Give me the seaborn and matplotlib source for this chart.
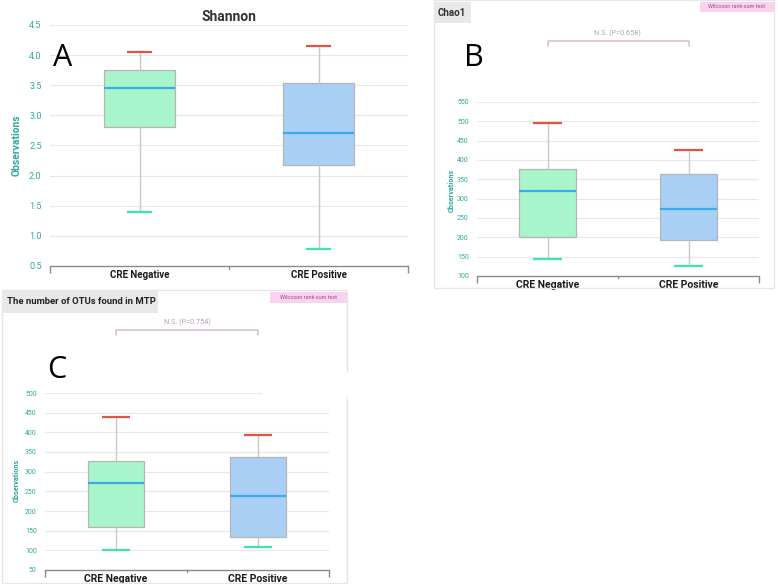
import numpy as np
import pandas as pd
import seaborn as sns
import matplotlib
matplotlib.use("Agg")
import matplotlib.pyplot as plt
from matplotlib.patches import Rectangle
from matplotlib.transforms import blended_transform_factory

# ---------------- data ----------------
groups = ["CRE Negative", "CRE Positive"]

shannon_low = [1.40, 0.79]
shannon_q1 = [2.80, 2.17]
shannon_med = [3.46, 2.71]
shannon_q3 = [3.75, 3.53]
shannon_high = [4.05, 4.15]
shannon_ticks = [0.5, 1.0, 1.5, 2.0, 2.5, 3.0, 3.5, 4.0, 4.5]

chao_low = [143, 127]
chao_q1 = [200, 193]
chao_med = [321, 274]
chao_q3 = [378, 365]
chao_high = [495, 426]
chao_ticks = [100, 150, 200, 250, 300, 350, 400, 450, 500, 550]
chao_p = "N.S. (P=0.658)"

otu_low = [100, 108]
otu_q1 = [160, 133]
otu_med = [271, 239]
otu_q3 = [328, 338]
otu_high = [440, 394]
otu_ticks = [50, 100, 150, 200, 250, 300, 350, 400, 450, 500]
otu_p = "N.S. (P=0.754)"

W, H = 778, 584
fig = plt.figure(figsize=(W / 100, H / 100), dpi=100)
sns.set_style("white")
plt.rcParams["font.family"] = ["Roboto", "DejaVu Sans"]

TEAL = "#2fa89a"
GREEN_FILL = "#a9f5cb"
BLUE_FILL = "#a9cff5"
MED = "#3aaaf0"
RED = "#e05540"
GREENCAP = "#3fe3a6"
GRID = "#e8e8e8"


def fx(x):
    return x / W


def fy(y):
    return 1 - y / H


def pax(x0, y0, x1, y1):
    return fig.add_axes([fx(x0), fy(y1), (x1 - x0) / W, (y1 - y0) / H])


def frect(x0, y0, x1, y1, **kw):
    r = Rectangle((fx(x0), fy(y1)), (x1 - x0) / W, (y1 - y0) / H,
                  transform=fig.transFigure, **kw)
    fig.patches.append(r)
    return r


def panel(ax, low, q1, med, q3, high, ticks, capw, ytick_fs, xtick_fs):
    rows = []
    for g, a, b, c, d, e in zip(groups, low, q1, med, q3, high):
        for v in (a, b, c, d, e):
            rows.append({"group": g, "value": v})
    df = pd.DataFrame(rows)
    sns.boxplot(data=df, x="group", y="value", hue="group",
                palette=[GREEN_FILL, BLUE_FILL], order=groups, hue_order=groups,
                saturation=1, width=0.4, whis=(0, 100), showcaps=False, legend=False,
                linecolor="#b5b5b5", linewidth=0.9,
                medianprops=dict(color=MED, linewidth=1.6),
                whiskerprops=dict(color="#c8c8c8", linewidth=1.0),
                ax=ax, zorder=3)
    for i in range(len(groups)):
        ax.hlines(high[i], i - capw / 2, i + capw / 2, color=RED, lw=1.6, zorder=4)
        ax.hlines(low[i], i - capw / 2, i + capw / 2, color=GREENCAP, lw=1.6, zorder=4)
    ax.set_xlim(-0.5, 1.5)
    ax.set_ylim(ticks[0], ticks[-1])
    ax.set_yticks(ticks)
    ax.set_yticklabels([f"{t:g}" if isinstance(t, int) else f"{t:.1f}" for t in ticks])
    for t in ticks[1:]:
        ax.axhline(t, color=GRID, lw=0.9, zorder=0)
    for s in ("top", "right", "left"):
        ax.spines[s].set_visible(False)
    ax.spines["bottom"].set_color("#8a8a8a")
    ax.spines["bottom"].set_linewidth(1.0)
    ax.tick_params(axis="y", length=0, labelsize=ytick_fs, labelcolor=TEAL, pad=6)
    ax.tick_params(axis="x", length=0, labelsize=xtick_fs, labelcolor="#1a1a1a", pad=3)
    ax.set_xticks([-0.5, 1.5], minor=True)
    ax.tick_params(axis="x", which="minor", bottom=True, length=5, color="#8a8a8a",
                   width=1.0, direction="out")
    # short divider tick between the two categories
    trx = blended_transform_factory(ax.transData, ax.transAxes)
    ax.plot([0.5, 0.5], [0, -0.012], color="#8a8a8a", lw=1.0, transform=trx,
            clip_on=False)
    for lab in ax.get_xticklabels():
        lab.set_fontweight("bold")
    ax.set_xlabel("")
    ax.set_ylabel("")
    ax.patch.set_alpha(0)


# frames (panels B and C)
frect(434, 0, 774, 288, facecolor="none", edgecolor="#e6e6e6", lw=1.0)
frect(2, 290, 347, 583, facecolor="none", edgecolor="#e6e6e6", lw=1.0)

# ---------------- Panel A ----------------
axA = pax(50, 25, 408, 266)
panel(axA, shannon_low, shannon_q1, shannon_med, shannon_q3, shannon_high,
      shannon_ticks, 0.14, 6.5, 7)
fig.text(fx(229), fy(17), "Shannon", ha="center", va="center",
         fontsize=10, fontweight="bold", color="#333333")
fig.text(fx(17), fy(145), "Observations", rotation=90, ha="center", va="center",
         fontsize=7.5, fontweight="bold", color=TEAL)
fig.text(fx(63), fy(58), "A", ha="center", va="center", fontsize=22,
         family=["Open Sans", "DejaVu Sans"], color="black")

# ---------------- Panel B ----------------
axB = pax(477, 102, 759, 276)
panel(axB, chao_low, chao_q1, chao_med, chao_q3, chao_high,
      chao_ticks, 0.2, 5, 7.5)
frect(434, 2, 471, 23, facecolor="#e8e8e8", edgecolor="none")
fig.text(fx(452), fy(13), "Chao1", ha="center", va="center", fontsize=7,
         fontweight="bold", color="#333333")
frect(700, 2, 775, 12, facecolor="#f9d2ee", edgecolor="none")
fig.text(fx(737), fy(7), "Wilcoxon rank-sum test", ha="center", va="center",
         fontsize=4, color="#a04a88")
trB = blended_transform_factory(axB.transData, fig.transFigure)
axB.plot([0, 0, 1, 1], [fy(45.5), fy(40.5), fy(40.5), fy(45.5)], color="#dcc0d4",
         lw=1.2, transform=trB, clip_on=False)
fig.text(fx(617), fy(33), chao_p, ha="center", va="center", fontsize=5.2,
         color="#b0a3b0")
fig.text(fx(452), fy(190), "Observations", rotation=90, ha="center", va="center",
         fontsize=5.2, fontweight="bold", color=TEAL)
fig.text(fx(474), fy(58), "B", ha="center", va="center", fontsize=22,
         family=["Open Sans", "DejaVu Sans"], color="black")

# ---------------- Panel C ----------------
axC = pax(45, 393, 329, 570)
panel(axC, otu_low, otu_q1, otu_med, otu_q3, otu_high,
      otu_ticks, 0.2, 5, 7.5)
frect(2, 291, 158, 313, facecolor="#e8e8e8", edgecolor="none")
fig.text(fx(7), fy(302), "The number of OTUs found in MTP", ha="left", va="center",
         fontsize=6.8, fontweight="bold", color="#222222")
frect(270, 292, 347, 303, facecolor="#f9d2ee", edgecolor="none")
fig.text(fx(308), fy(297.5), "Wilcoxon rank-sum test", ha="center", va="center",
         fontsize=4, color="#a04a88")
trC = blended_transform_factory(axC.transData, fig.transFigure)
axC.plot([0, 0, 1, 1], [fy(334.5), fy(329.5), fy(329.5), fy(334.5)], color="#dcc0d4",
         lw=1.2, transform=trC, clip_on=False)
fig.text(fx(187), fy(322), otu_p, ha="center", va="center", fontsize=5.2,
         color="#b0a3b0")
fig.text(fx(17), fy(480), "Observations", rotation=90, ha="center", va="center",
         fontsize=5.2, fontweight="bold", color=TEAL)
fig.text(fx(57), fy(370), "C", ha="center", va="center", fontsize=22,
         family=["Open Sans", "DejaVu Sans"], color="black")
# white patch covering part of panel C frame
frect(262, 372, 352, 397, facecolor="white", edgecolor="none", zorder=5)

fig.savefig("out.png", dpi=100)
